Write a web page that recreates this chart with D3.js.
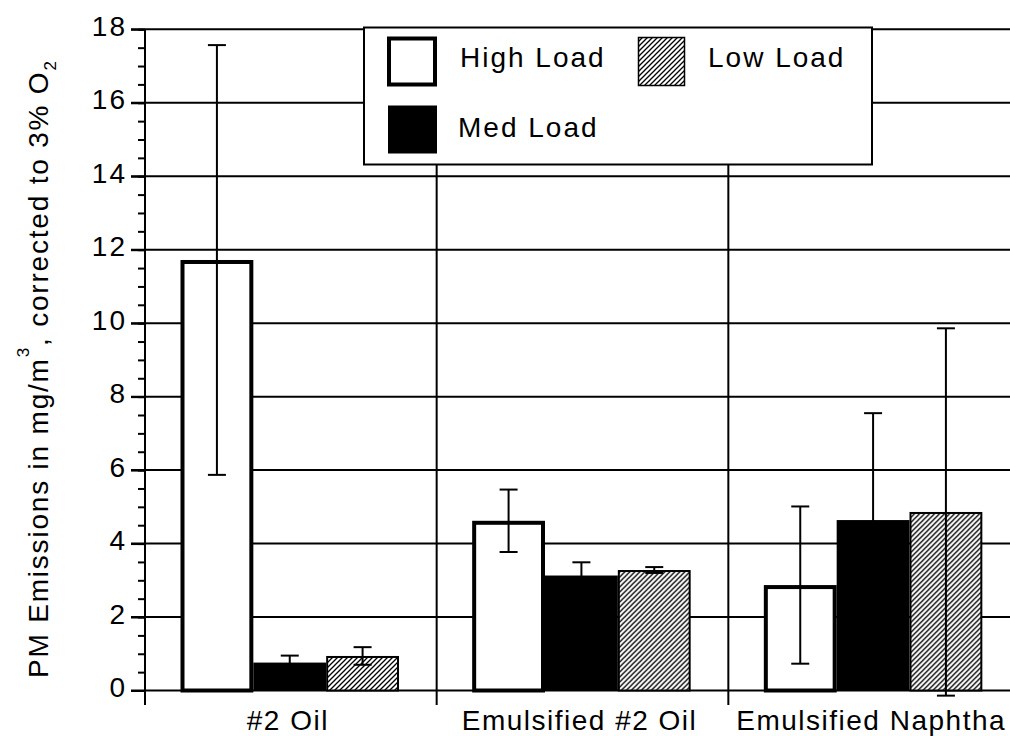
<!DOCTYPE html>
<html>
<head>
<meta charset="utf-8">
<script src="https://cdn.jsdelivr.net/npm/d3@7"></script>
<style>
  body { margin: 0; background: #fff; }
  svg { display: block; }
  text { font-family: "Liberation Sans", Arial, Helvetica, sans-serif; font-size: 28px; letter-spacing: 2px; fill: #000; }
</style>
</head>
<body>
<svg id="chart" width="1010" height="736"></svg>
<script>
// Fuel types along the x axis
const categories = ["#2 Oil", "Emulsified #2 Oil", "Emulsified Naphtha"];
// Load conditions (one bar each per fuel)
const loads = ["High Load", "Med Load", "Low Load"];
// Mean PM emissions, mg/m3 corrected to 3% O2
const highLoad = [11.72, 4.62, 2.87];
const medLoad  = [0.76, 3.13, 4.64];
const lowLoad  = [0.94, 3.28, 4.86];
// Error bar half-widths
const highErr = [5.85, 0.85, 2.14];
const medErr  = [0.19, 0.36, 2.91];
const lowErr  = [0.24, 0.08, 5.00];
// Axis ticks
const yTicks = [0, 2, 4, 6, 8, 10, 12, 14, 16, 18];
const yMinorTicks = d3.range(0, 18.01, 0.5);

const series = [
  { name: loads[0], values: highLoad, errs: highErr },
  { name: loads[1], values: medLoad,  errs: medErr },
  { name: loads[2], values: lowLoad,  errs: lowErr }
];

const svg = d3.select("#chart");

const plotLeft = 145, plotRight = 1020, plotTop = 29.3, plotBottom = 690.5, tickBottom = 705;

const y = d3.scaleLinear().domain([0, 18]).range([plotBottom, plotTop]);
const x0 = d3.scaleBand().domain(categories).range([plotLeft, plotRight]).padding(0);
const x1 = d3.scaleBand().domain(loads).range([35.5, 254]).padding(0);

// Hatch pattern for the low-load bars
const defs = svg.append("defs");
const hatch = defs.append("pattern")
  .attr("id", "hatch")
  .attr("patternUnits", "userSpaceOnUse")
  .attr("width", 5).attr("height", 5);
hatch.append("rect").attr("width", 5).attr("height", 5).attr("fill", "#fff");
hatch.append("path")
  .attr("d", "M-1,6 L6,-1 M-2,2 L2,-2 M3,7 L7,3")
  .attr("stroke", "#000").attr("stroke-width", 1.3);

// Horizontal gridlines
svg.append("g").selectAll("line").data(yTicks).join("line")
  .attr("x1", plotLeft - 14).attr("x2", plotRight)
  .attr("y1", d => y(d)).attr("y2", d => y(d))
  .attr("stroke", "#000").attr("stroke-width", 2);

// Category separators (run from the top down past the baseline)
svg.append("g").selectAll("line").data(categories.slice(1).concat(["end"])).join("line")
  .attr("x1", (d, i) => plotLeft + x0.step() * (i + 1))
  .attr("x2", (d, i) => plotLeft + x0.step() * (i + 1))
  .attr("y1", plotTop).attr("y2", tickBottom)
  .attr("stroke", "#000").attr("stroke-width", 2);

// Y axis: major ticks with labels, minor ticks every 0.5
const yAxis = svg.append("g").attr("transform", `translate(${plotLeft},0)`)
  .call(d3.axisLeft(y).tickValues(yTicks).tickSize(14).tickPadding(4).tickFormat(d3.format("d")));
yAxis.select(".domain").remove();
yAxis.selectAll("line").attr("stroke", "#000").attr("stroke-width", 2);
yAxis.selectAll("text").attr("font-size", null).attr("font-family", null).attr("dy", "0.22em");

const yMinor = svg.append("g").attr("transform", `translate(${plotLeft},0)`)
  .call(d3.axisLeft(y).tickValues(yMinorTicks).tickSize(7).tickFormat(""));
yMinor.select(".domain").remove();
yMinor.selectAll("line").attr("stroke", "#000").attr("stroke-width", 2);

svg.append("line")
  .attr("x1", plotLeft).attr("x2", plotLeft)
  .attr("y1", plotTop).attr("y2", tickBottom)
  .attr("stroke", "#000").attr("stroke-width", 2);

// Bars
const groups = svg.append("g").selectAll("g").data(categories).join("g")
  .attr("transform", d => `translate(${x0(d)},0)`);

const barData = ci => series.map(s => ({ name: s.name, value: s.values[ci], err: s.errs[ci] }));

groups.each(function (cat, ci) {
  const g = d3.select(this);
  const bars = barData(ci);
  bars.forEach(b => {
    const bx = x1(b.name), bw = x1.bandwidth();
    const top = y(b.value), bottom = y(0);
    if (b.name === loads[0]) {
      g.append("rect")
        .attr("x", bx + 2).attr("y", top + 2)
        .attr("width", bw - 4).attr("height", bottom - top - 2)
        .attr("fill", "#fff").attr("stroke", "#000").attr("stroke-width", 4);
    } else if (b.name === loads[1]) {
      g.append("rect")
        .attr("x", bx).attr("y", top)
        .attr("width", bw).attr("height", bottom - top)
        .attr("fill", "#000");
    } else {
      g.append("rect")
        .attr("x", bx + 1).attr("y", top + 1)
        .attr("width", bw - 2).attr("height", bottom - top - 1)
        .attr("fill", "url(#hatch)").attr("stroke", "#000").attr("stroke-width", 2);
    }
  });
  // Error bars
  bars.forEach(b => {
    const cx = x1(b.name) + x1.bandwidth() / 2;
    const hi = y(b.value + b.err), lo = y(b.value - b.err);
    g.append("line").attr("x1", cx).attr("x2", cx).attr("y1", hi).attr("y2", lo)
      .attr("stroke", "#000").attr("stroke-width", 2);
    [hi, lo].forEach(v => {
      g.append("line").attr("x1", cx - 9).attr("x2", cx + 9).attr("y1", v).attr("y2", v)
        .attr("stroke", "#000").attr("stroke-width", 2);
    });
  });
});

// Category labels
svg.append("g").selectAll("text").data(categories).join("text")
  .attr("x", d => x0(d) + x0.bandwidth() / 2 - 3)
  .attr("y", 730)
  .attr("text-anchor", "middle")
  .style("letter-spacing", "1.5px")
  .text(d => d);

// Y axis title with superscript and subscript
const title = svg.append("text")
  .attr("transform", "translate(48,678) rotate(-90)")
  .attr("text-anchor", "start")
  .style("letter-spacing", "1.8px");
title.append("tspan").text("PM Emissions in mg/m");
title.append("tspan").attr("dy", -19).style("font-size", "17px").text("3");
title.append("tspan").attr("dy", 19).text(", corrected to 3% O");
title.append("tspan").attr("dy", 8).style("font-size", "17px").text("2");

// Legend
const legend = svg.append("g");
legend.append("rect")
  .attr("x", 364).attr("y", 27.5).attr("width", 508).attr("height", 137)
  .attr("fill", "#fff").attr("stroke", "#000").attr("stroke-width", 2);

const legendItems = [
  { name: loads[0], sx: 387, sy: 36.5, tx: 460, ty: 67 },
  { name: loads[1], sx: 387, sy: 105.5, tx: 458, ty: 137 },
  { name: loads[2], sx: 637.5, sy: 36.5, tx: 708, ty: 67 }
];
legendItems.forEach(it => {
  if (it.name === loads[0]) {
    legend.append("rect").attr("x", it.sx + 2).attr("y", it.sy + 2).attr("width", 46).attr("height", 46)
      .attr("fill", "#fff").attr("stroke", "#000").attr("stroke-width", 4);
  } else if (it.name === loads[1]) {
    legend.append("rect").attr("x", it.sx + 1).attr("y", it.sy).attr("width", 49).attr("height", 48)
      .attr("fill", "#000");
  } else {
    legend.append("rect").attr("x", it.sx + 1).attr("y", it.sy + 1).attr("width", 46).attr("height", 48)
      .attr("fill", "url(#hatch)").attr("stroke", "#000").attr("stroke-width", 1.5);
  }
  legend.append("text").attr("x", it.tx).attr("y", it.ty).text(it.name);
});
</script>
</body>
</html>
